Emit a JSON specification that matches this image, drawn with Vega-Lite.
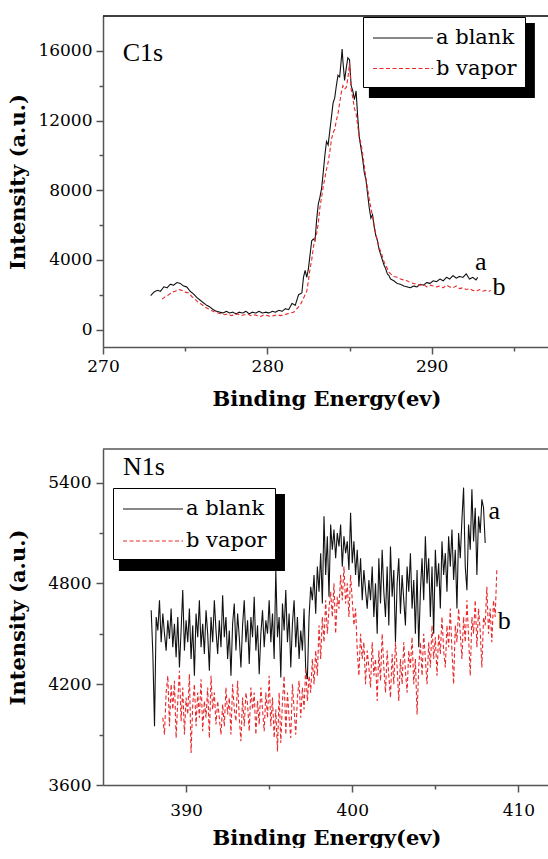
{
"$schema": "https://vega.github.io/schema/vega-lite/v6.json",
"background": "white",
"padding": {"left": 7, "top": 15, "right": 0, "bottom": 0},
"spacing": 39,
"config": {
 "view": {"stroke": null},
 "axis": {"labelFont": "DejaVu Serif", "labelFontSize": 17, "labelColor": "black", "titleFont": "DejaVu Serif", "titleFontSize": 21, "titleFontWeight": "bold", "titleColor": "black", "domainColor": "#555", "domainWidth": 1.5, "tickColor": "#555", "tickWidth": 1.5, "grid": false, "labelOverlap": false, "labelFlush": false},
 "legend": {"title": null, "orient": "none", "symbolType": "M-2.5,0H2.5", "symbolSize": 576, "symbolOffset": 19, "symbolStrokeWidth": 1.2, "labelFont": "DejaVu Serif", "labelFontSize": 21, "labelColor": "black", "labelOffset": 20, "strokeColor": "black", "fillColor": "white", "padding": 8, "rowPadding": 7.5},
 "text": {"font": "Liberation Serif", "fontSize": 26, "color": "black"}
},
"resolve": {"scale": {"color": "independent", "strokeDash": "independent"}, "legend": {"color": "independent", "strokeDash": "independent"}},
"datasets": {
 "c1s": [
{"e":272.9,"i":1950,"s":"a blank"},{"e":273.1,"i":2150,"s":"a blank"},{"e":273.3,"i":2250,"s":"a blank"},{"e":273.5,"i":2200,"s":"a blank"},{"e":273.7,"i":2450,"s":"a blank"},{"e":273.9,"i":2400,"s":"a blank"},{"e":274.1,"i":2600,"s":"a blank"},{"e":274.3,"i":2550,"s":"a blank"},{"e":274.5,"i":2700,"s":"a blank"},{"e":274.7,"i":2650,"s":"a blank"},{"e":274.9,"i":2500,"s":"a blank"},{"e":275.1,"i":2450,"s":"a blank"},{"e":275.3,"i":2200,"s":"a blank"},{"e":275.5,"i":2050,"s":"a blank"},{"e":275.7,"i":1850,"s":"a blank"},{"e":275.9,"i":1700,"s":"a blank"},{"e":276.1,"i":1550,"s":"a blank"},{"e":276.3,"i":1400,"s":"a blank"},{"e":276.5,"i":1300,"s":"a blank"},{"e":276.7,"i":1150,"s":"a blank"},{"e":276.9,"i":1050,"s":"a blank"},{"e":277.1,"i":1000,"s":"a blank"},{"e":277.3,"i":950,"s":"a blank"},{"e":277.5,"i":1050,"s":"a blank"},{"e":277.7,"i":950,"s":"a blank"},{"e":277.9,"i":1000,"s":"a blank"},{"e":278.1,"i":900,"s":"a blank"},{"e":278.3,"i":1000,"s":"a blank"},{"e":278.5,"i":950,"s":"a blank"},{"e":278.7,"i":1050,"s":"a blank"},{"e":278.9,"i":900,"s":"a blank"},{"e":279.1,"i":1000,"s":"a blank"},{"e":279.3,"i":950,"s":"a blank"},{"e":279.5,"i":1050,"s":"a blank"},{"e":279.7,"i":950,"s":"a blank"},{"e":279.9,"i":1000,"s":"a blank"},{"e":280.1,"i":950,"s":"a blank"},{"e":280.3,"i":1050,"s":"a blank"},{"e":280.5,"i":1000,"s":"a blank"},{"e":280.7,"i":1100,"s":"a blank"},{"e":280.9,"i":1050,"s":"a blank"},{"e":281.1,"i":1200,"s":"a blank"},{"e":281.3,"i":1150,"s":"a blank"},{"e":281.5,"i":1500,"s":"a blank"},{"e":281.7,"i":1400,"s":"a blank"},{"e":281.9,"i":2000,"s":"a blank"},{"e":282.1,"i":2100,"s":"a blank"},{"e":282.2,"i":3000,"s":"a blank"},{"e":282.3,"i":3400,"s":"a blank"},{"e":282.4,"i":3000,"s":"a blank"},{"e":282.5,"i":3500,"s":"a blank"},{"e":282.6,"i":4300,"s":"a blank"},{"e":282.7,"i":5100,"s":"a blank"},{"e":282.8,"i":5200,"s":"a blank"},{"e":282.9,"i":5100,"s":"a blank"},{"e":283.0,"i":6300,"s":"a blank"},{"e":283.1,"i":7200,"s":"a blank"},{"e":283.2,"i":7600,"s":"a blank"},{"e":283.3,"i":8100,"s":"a blank"},{"e":283.4,"i":9000,"s":"a blank"},{"e":283.5,"i":10000,"s":"a blank"},{"e":283.6,"i":10800,"s":"a blank"},{"e":283.7,"i":10600,"s":"a blank"},{"e":283.8,"i":11400,"s":"a blank"},{"e":283.9,"i":12200,"s":"a blank"},{"e":284.0,"i":13000,"s":"a blank"},{"e":284.1,"i":13300,"s":"a blank"},{"e":284.2,"i":14000,"s":"a blank"},{"e":284.3,"i":14600,"s":"a blank"},{"e":284.4,"i":14500,"s":"a blank"},{"e":284.5,"i":15500,"s":"a blank"},{"e":284.55,"i":16100,"s":"a blank"},{"e":284.6,"i":15400,"s":"a blank"},{"e":284.7,"i":14300,"s":"a blank"},{"e":284.8,"i":15000,"s":"a blank"},{"e":284.9,"i":15600,"s":"a blank"},{"e":285.0,"i":15500,"s":"a blank"},{"e":285.1,"i":14000,"s":"a blank"},{"e":285.2,"i":13700,"s":"a blank"},{"e":285.3,"i":13200,"s":"a blank"},{"e":285.4,"i":13700,"s":"a blank"},{"e":285.5,"i":12200,"s":"a blank"},{"e":285.6,"i":11000,"s":"a blank"},{"e":285.7,"i":10400,"s":"a blank"},{"e":285.8,"i":9800,"s":"a blank"},{"e":285.9,"i":9000,"s":"a blank"},{"e":286.0,"i":8600,"s":"a blank"},{"e":286.1,"i":7800,"s":"a blank"},{"e":286.2,"i":7000,"s":"a blank"},{"e":286.3,"i":6400,"s":"a blank"},{"e":286.4,"i":6600,"s":"a blank"},{"e":286.5,"i":5900,"s":"a blank"},{"e":286.6,"i":5400,"s":"a blank"},{"e":286.7,"i":5100,"s":"a blank"},{"e":286.8,"i":4600,"s":"a blank"},{"e":286.9,"i":4300,"s":"a blank"},{"e":287.0,"i":4000,"s":"a blank"},{"e":287.1,"i":3700,"s":"a blank"},{"e":287.2,"i":3500,"s":"a blank"},{"e":287.3,"i":3200,"s":"a blank"},{"e":287.4,"i":3100,"s":"a blank"},{"e":287.5,"i":2900,"s":"a blank"},{"e":287.7,"i":2800,"s":"a blank"},{"e":287.9,"i":2650,"s":"a blank"},{"e":288.1,"i":2600,"s":"a blank"},{"e":288.3,"i":2500,"s":"a blank"},{"e":288.5,"i":2450,"s":"a blank"},{"e":288.7,"i":2400,"s":"a blank"},{"e":288.9,"i":2500,"s":"a blank"},{"e":289.1,"i":2450,"s":"a blank"},{"e":289.3,"i":2600,"s":"a blank"},{"e":289.5,"i":2550,"s":"a blank"},{"e":289.7,"i":2700,"s":"a blank"},{"e":289.9,"i":2650,"s":"a blank"},{"e":290.1,"i":2800,"s":"a blank"},{"e":290.3,"i":2750,"s":"a blank"},{"e":290.5,"i":2900,"s":"a blank"},{"e":290.7,"i":2800,"s":"a blank"},{"e":290.9,"i":3000,"s":"a blank"},{"e":291.1,"i":2900,"s":"a blank"},{"e":291.3,"i":3100,"s":"a blank"},{"e":291.5,"i":2950,"s":"a blank"},{"e":291.7,"i":3050,"s":"a blank"},{"e":291.9,"i":3000,"s":"a blank"},{"e":292.1,"i":3200,"s":"a blank"},{"e":292.3,"i":2900,"s":"a blank"},{"e":292.5,"i":3000,"s":"a blank"},{"e":292.7,"i":2850,"s":"a blank"},{"e":292.8,"i":3000,"s":"a blank"},
{"e":273.6,"i":1750,"s":"b vapor"},{"e":273.8,"i":1900,"s":"b vapor"},{"e":274.0,"i":2000,"s":"b vapor"},{"e":274.2,"i":2150,"s":"b vapor"},{"e":274.4,"i":2200,"s":"b vapor"},{"e":274.6,"i":2300,"s":"b vapor"},{"e":274.8,"i":2250,"s":"b vapor"},{"e":275.0,"i":2150,"s":"b vapor"},{"e":275.2,"i":2100,"s":"b vapor"},{"e":275.4,"i":1900,"s":"b vapor"},{"e":275.6,"i":1750,"s":"b vapor"},{"e":275.8,"i":1550,"s":"b vapor"},{"e":276.0,"i":1450,"s":"b vapor"},{"e":276.2,"i":1300,"s":"b vapor"},{"e":276.4,"i":1200,"s":"b vapor"},{"e":276.6,"i":1100,"s":"b vapor"},{"e":276.8,"i":1000,"s":"b vapor"},{"e":277.0,"i":950,"s":"b vapor"},{"e":277.2,"i":900,"s":"b vapor"},{"e":277.4,"i":850,"s":"b vapor"},{"e":277.6,"i":900,"s":"b vapor"},{"e":277.8,"i":800,"s":"b vapor"},{"e":278.0,"i":850,"s":"b vapor"},{"e":278.2,"i":900,"s":"b vapor"},{"e":278.4,"i":800,"s":"b vapor"},{"e":278.6,"i":850,"s":"b vapor"},{"e":278.8,"i":900,"s":"b vapor"},{"e":279.0,"i":800,"s":"b vapor"},{"e":279.2,"i":850,"s":"b vapor"},{"e":279.4,"i":800,"s":"b vapor"},{"e":279.6,"i":750,"s":"b vapor"},{"e":279.8,"i":850,"s":"b vapor"},{"e":280.0,"i":800,"s":"b vapor"},{"e":280.2,"i":750,"s":"b vapor"},{"e":280.4,"i":800,"s":"b vapor"},{"e":280.6,"i":850,"s":"b vapor"},{"e":280.8,"i":800,"s":"b vapor"},{"e":281.0,"i":850,"s":"b vapor"},{"e":281.2,"i":900,"s":"b vapor"},{"e":281.4,"i":950,"s":"b vapor"},{"e":281.6,"i":1000,"s":"b vapor"},{"e":281.8,"i":1200,"s":"b vapor"},{"e":282.0,"i":1400,"s":"b vapor"},{"e":282.2,"i":1800,"s":"b vapor"},{"e":282.4,"i":2200,"s":"b vapor"},{"e":282.5,"i":2800,"s":"b vapor"},{"e":282.6,"i":3500,"s":"b vapor"},{"e":282.7,"i":4000,"s":"b vapor"},{"e":282.8,"i":4700,"s":"b vapor"},{"e":282.9,"i":5300,"s":"b vapor"},{"e":283.0,"i":5500,"s":"b vapor"},{"e":283.1,"i":6100,"s":"b vapor"},{"e":283.2,"i":7000,"s":"b vapor"},{"e":283.3,"i":7600,"s":"b vapor"},{"e":283.4,"i":8200,"s":"b vapor"},{"e":283.5,"i":8700,"s":"b vapor"},{"e":283.6,"i":9200,"s":"b vapor"},{"e":283.7,"i":9600,"s":"b vapor"},{"e":283.8,"i":10200,"s":"b vapor"},{"e":283.9,"i":10900,"s":"b vapor"},{"e":284.0,"i":11300,"s":"b vapor"},{"e":284.1,"i":11500,"s":"b vapor"},{"e":284.2,"i":12000,"s":"b vapor"},{"e":284.3,"i":12400,"s":"b vapor"},{"e":284.4,"i":13000,"s":"b vapor"},{"e":284.5,"i":13600,"s":"b vapor"},{"e":284.6,"i":14000,"s":"b vapor"},{"e":284.7,"i":13800,"s":"b vapor"},{"e":284.8,"i":13900,"s":"b vapor"},{"e":284.9,"i":14400,"s":"b vapor"},{"e":285.0,"i":15300,"s":"b vapor"},{"e":285.1,"i":13800,"s":"b vapor"},{"e":285.2,"i":13300,"s":"b vapor"},{"e":285.3,"i":12700,"s":"b vapor"},{"e":285.4,"i":12400,"s":"b vapor"},{"e":285.5,"i":11700,"s":"b vapor"},{"e":285.6,"i":11000,"s":"b vapor"},{"e":285.7,"i":10700,"s":"b vapor"},{"e":285.8,"i":10100,"s":"b vapor"},{"e":285.9,"i":9400,"s":"b vapor"},{"e":286.0,"i":8700,"s":"b vapor"},{"e":286.1,"i":8100,"s":"b vapor"},{"e":286.2,"i":7500,"s":"b vapor"},{"e":286.3,"i":7000,"s":"b vapor"},{"e":286.4,"i":6500,"s":"b vapor"},{"e":286.5,"i":6000,"s":"b vapor"},{"e":286.6,"i":5500,"s":"b vapor"},{"e":286.7,"i":5100,"s":"b vapor"},{"e":286.8,"i":4700,"s":"b vapor"},{"e":286.9,"i":4500,"s":"b vapor"},{"e":287.0,"i":4200,"s":"b vapor"},{"e":287.1,"i":3900,"s":"b vapor"},{"e":287.2,"i":3700,"s":"b vapor"},{"e":287.3,"i":3500,"s":"b vapor"},{"e":287.4,"i":3300,"s":"b vapor"},{"e":287.5,"i":3200,"s":"b vapor"},{"e":287.7,"i":3050,"s":"b vapor"},{"e":287.9,"i":3000,"s":"b vapor"},{"e":288.1,"i":2900,"s":"b vapor"},{"e":288.3,"i":2850,"s":"b vapor"},{"e":288.5,"i":2800,"s":"b vapor"},{"e":288.7,"i":2700,"s":"b vapor"},{"e":288.9,"i":2650,"s":"b vapor"},{"e":289.1,"i":2600,"s":"b vapor"},{"e":289.3,"i":2550,"s":"b vapor"},{"e":289.5,"i":2600,"s":"b vapor"},{"e":289.7,"i":2450,"s":"b vapor"},{"e":289.9,"i":2550,"s":"b vapor"},{"e":290.1,"i":2500,"s":"b vapor"},{"e":290.3,"i":2450,"s":"b vapor"},{"e":290.5,"i":2500,"s":"b vapor"},{"e":290.7,"i":2400,"s":"b vapor"},{"e":290.9,"i":2550,"s":"b vapor"},{"e":291.1,"i":2450,"s":"b vapor"},{"e":291.3,"i":2400,"s":"b vapor"},{"e":291.5,"i":2500,"s":"b vapor"},{"e":291.7,"i":2350,"s":"b vapor"},{"e":291.9,"i":2400,"s":"b vapor"},{"e":292.1,"i":2300,"s":"b vapor"},{"e":292.3,"i":2350,"s":"b vapor"},{"e":292.5,"i":2250,"s":"b vapor"},{"e":292.7,"i":2200,"s":"b vapor"},{"e":292.9,"i":2300,"s":"b vapor"},{"e":293.1,"i":2200,"s":"b vapor"},{"e":293.3,"i":2250,"s":"b vapor"},{"e":293.5,"i":2200,"s":"b vapor"},{"e":293.6,"i":2250,"s":"b vapor"}
 ],
 "n1s": [
{"e":387.9,"i":4640,"s":"a blank"},{"e":388.0,"i":4380,"s":"a blank"},{"e":388.1,"i":3950,"s":"a blank"},{"e":388.2,"i":4600,"s":"a blank"},{"e":388.3,"i":4520,"s":"a blank"},{"e":388.4,"i":4700,"s":"a blank"},{"e":388.5,"i":4450,"s":"a blank"},{"e":388.6,"i":4620,"s":"a blank"},{"e":388.7,"i":4500,"s":"a blank"},{"e":388.8,"i":4400,"s":"a blank"},{"e":388.9,"i":4580,"s":"a blank"},{"e":389.0,"i":4470,"s":"a blank"},{"e":389.1,"i":4650,"s":"a blank"},{"e":389.2,"i":4420,"s":"a blank"},{"e":389.3,"i":4560,"s":"a blank"},{"e":389.4,"i":4360,"s":"a blank"},{"e":389.5,"i":4600,"s":"a blank"},{"e":389.6,"i":4300,"s":"a blank"},{"e":389.7,"i":4520,"s":"a blank"},{"e":389.8,"i":4760,"s":"a blank"},{"e":389.9,"i":4400,"s":"a blank"},{"e":390.0,"i":4580,"s":"a blank"},{"e":390.1,"i":4450,"s":"a blank"},{"e":390.2,"i":4650,"s":"a blank"},{"e":390.3,"i":4350,"s":"a blank"},{"e":390.4,"i":4550,"s":"a blank"},{"e":390.5,"i":4250,"s":"a blank"},{"e":390.6,"i":4620,"s":"a blank"},{"e":390.7,"i":4480,"s":"a blank"},{"e":390.8,"i":4700,"s":"a blank"},{"e":390.9,"i":4420,"s":"a blank"},{"e":391.0,"i":4560,"s":"a blank"},{"e":391.1,"i":4380,"s":"a blank"},{"e":391.2,"i":4640,"s":"a blank"},{"e":391.3,"i":4500,"s":"a blank"},{"e":391.4,"i":4280,"s":"a blank"},{"e":391.5,"i":4600,"s":"a blank"},{"e":391.6,"i":4450,"s":"a blank"},{"e":391.7,"i":4700,"s":"a blank"},{"e":391.8,"i":4520,"s":"a blank"},{"e":391.9,"i":4380,"s":"a blank"},{"e":392.0,"i":4580,"s":"a blank"},{"e":392.1,"i":4420,"s":"a blank"},{"e":392.2,"i":4730,"s":"a blank"},{"e":392.3,"i":4480,"s":"a blank"},{"e":392.4,"i":4600,"s":"a blank"},{"e":392.5,"i":4350,"s":"a blank"},{"e":392.6,"i":4520,"s":"a blank"},{"e":392.7,"i":4250,"s":"a blank"},{"e":392.8,"i":4560,"s":"a blank"},{"e":392.9,"i":4680,"s":"a blank"},{"e":393.0,"i":4400,"s":"a blank"},{"e":393.1,"i":4620,"s":"a blank"},{"e":393.2,"i":4480,"s":"a blank"},{"e":393.3,"i":4300,"s":"a blank"},{"e":393.4,"i":4550,"s":"a blank"},{"e":393.5,"i":4700,"s":"a blank"},{"e":393.6,"i":4450,"s":"a blank"},{"e":393.7,"i":4580,"s":"a blank"},{"e":393.8,"i":4320,"s":"a blank"},{"e":393.9,"i":4600,"s":"a blank"},{"e":394.0,"i":4480,"s":"a blank"},{"e":394.1,"i":4720,"s":"a blank"},{"e":394.2,"i":4400,"s":"a blank"},{"e":394.3,"i":4550,"s":"a blank"},{"e":394.4,"i":4260,"s":"a blank"},{"e":394.5,"i":4500,"s":"a blank"},{"e":394.6,"i":4640,"s":"a blank"},{"e":394.7,"i":4420,"s":"a blank"},{"e":394.8,"i":4580,"s":"a blank"},{"e":394.9,"i":4500,"s":"a blank"},{"e":395.0,"i":4700,"s":"a blank"},{"e":395.1,"i":4450,"s":"a blank"},{"e":395.2,"i":4620,"s":"a blank"},{"e":395.3,"i":4350,"s":"a blank"},{"e":395.4,"i":4880,"s":"a blank"},{"e":395.5,"i":4480,"s":"a blank"},{"e":395.6,"i":4600,"s":"a blank"},{"e":395.7,"i":4240,"s":"a blank"},{"e":395.8,"i":4680,"s":"a blank"},{"e":395.9,"i":4520,"s":"a blank"},{"e":396.0,"i":4760,"s":"a blank"},{"e":396.1,"i":4450,"s":"a blank"},{"e":396.2,"i":4620,"s":"a blank"},{"e":396.3,"i":4300,"s":"a blank"},{"e":396.4,"i":4560,"s":"a blank"},{"e":396.5,"i":4700,"s":"a blank"},{"e":396.6,"i":4420,"s":"a blank"},{"e":396.7,"i":4600,"s":"a blank"},{"e":396.8,"i":4350,"s":"a blank"},{"e":396.9,"i":4520,"s":"a blank"},{"e":397.0,"i":4400,"s":"a blank"},{"e":397.1,"i":4650,"s":"a blank"},{"e":397.2,"i":4280,"s":"a blank"},{"e":397.3,"i":4230,"s":"a blank"},{"e":397.4,"i":4600,"s":"a blank"},{"e":397.5,"i":4780,"s":"a blank"},{"e":397.6,"i":4700,"s":"a blank"},{"e":397.7,"i":4850,"s":"a blank"},{"e":397.8,"i":4620,"s":"a blank"},{"e":397.9,"i":4900,"s":"a blank"},{"e":398.0,"i":4750,"s":"a blank"},{"e":398.1,"i":4980,"s":"a blank"},{"e":398.2,"i":4680,"s":"a blank"},{"e":398.3,"i":5200,"s":"a blank"},{"e":398.4,"i":4850,"s":"a blank"},{"e":398.5,"i":5080,"s":"a blank"},{"e":398.6,"i":4720,"s":"a blank"},{"e":398.7,"i":5150,"s":"a blank"},{"e":398.8,"i":5000,"s":"a blank"},{"e":398.9,"i":5120,"s":"a blank"},{"e":399.0,"i":4950,"s":"a blank"},{"e":399.1,"i":5100,"s":"a blank"},{"e":399.2,"i":5020,"s":"a blank"},{"e":399.3,"i":5150,"s":"a blank"},{"e":399.4,"i":4900,"s":"a blank"},{"e":399.5,"i":5080,"s":"a blank"},{"e":399.6,"i":4980,"s":"a blank"},{"e":399.7,"i":5050,"s":"a blank"},{"e":399.8,"i":4880,"s":"a blank"},{"e":399.9,"i":5220,"s":"a blank"},{"e":400.0,"i":4920,"s":"a blank"},{"e":400.1,"i":5050,"s":"a blank"},{"e":400.2,"i":4850,"s":"a blank"},{"e":400.3,"i":5000,"s":"a blank"},{"e":400.4,"i":4780,"s":"a blank"},{"e":400.5,"i":4950,"s":"a blank"},{"e":400.6,"i":4700,"s":"a blank"},{"e":400.7,"i":4880,"s":"a blank"},{"e":400.8,"i":4760,"s":"a blank"},{"e":400.9,"i":4650,"s":"a blank"},{"e":401.0,"i":4820,"s":"a blank"},{"e":401.1,"i":4700,"s":"a blank"},{"e":401.2,"i":4900,"s":"a blank"},{"e":401.3,"i":4600,"s":"a blank"},{"e":401.4,"i":4800,"s":"a blank"},{"e":401.5,"i":4500,"s":"a blank"},{"e":401.6,"i":4950,"s":"a blank"},{"e":401.7,"i":4680,"s":"a blank"},{"e":401.8,"i":5000,"s":"a blank"},{"e":401.9,"i":4750,"s":"a blank"},{"e":402.0,"i":4600,"s":"a blank"},{"e":402.1,"i":4900,"s":"a blank"},{"e":402.2,"i":4550,"s":"a blank"},{"e":402.3,"i":5020,"s":"a blank"},{"e":402.4,"i":4720,"s":"a blank"},{"e":402.5,"i":4880,"s":"a blank"},{"e":402.6,"i":4450,"s":"a blank"},{"e":402.7,"i":4800,"s":"a blank"},{"e":402.8,"i":4950,"s":"a blank"},{"e":402.9,"i":4620,"s":"a blank"},{"e":403.0,"i":4850,"s":"a blank"},{"e":403.1,"i":4700,"s":"a blank"},{"e":403.2,"i":4550,"s":"a blank"},{"e":403.3,"i":4900,"s":"a blank"},{"e":403.4,"i":4750,"s":"a blank"},{"e":403.5,"i":4980,"s":"a blank"},{"e":403.6,"i":4650,"s":"a blank"},{"e":403.7,"i":4820,"s":"a blank"},{"e":403.8,"i":4500,"s":"a blank"},{"e":403.9,"i":4880,"s":"a blank"},{"e":404.0,"i":4420,"s":"a blank"},{"e":404.1,"i":4750,"s":"a blank"},{"e":404.2,"i":4950,"s":"a blank"},{"e":404.3,"i":4700,"s":"a blank"},{"e":404.4,"i":5080,"s":"a blank"},{"e":404.5,"i":4800,"s":"a blank"},{"e":404.6,"i":4950,"s":"a blank"},{"e":404.7,"i":4600,"s":"a blank"},{"e":404.8,"i":4900,"s":"a blank"},{"e":404.9,"i":4500,"s":"a blank"},{"e":405.0,"i":5000,"s":"a blank"},{"e":405.1,"i":4780,"s":"a blank"},{"e":405.2,"i":4920,"s":"a blank"},{"e":405.3,"i":4650,"s":"a blank"},{"e":405.4,"i":5050,"s":"a blank"},{"e":405.5,"i":4850,"s":"a blank"},{"e":405.6,"i":4980,"s":"a blank"},{"e":405.7,"i":4750,"s":"a blank"},{"e":405.8,"i":5080,"s":"a blank"},{"e":405.9,"i":4900,"s":"a blank"},{"e":406.0,"i":5120,"s":"a blank"},{"e":406.1,"i":4820,"s":"a blank"},{"e":406.2,"i":5000,"s":"a blank"},{"e":406.3,"i":4650,"s":"a blank"},{"e":406.4,"i":5100,"s":"a blank"},{"e":406.5,"i":4950,"s":"a blank"},{"e":406.6,"i":5180,"s":"a blank"},{"e":406.7,"i":5370,"s":"a blank"},{"e":406.8,"i":4900,"s":"a blank"},{"e":406.9,"i":4760,"s":"a blank"},{"e":407.0,"i":5150,"s":"a blank"},{"e":407.1,"i":5000,"s":"a blank"},{"e":407.2,"i":5360,"s":"a blank"},{"e":407.3,"i":5050,"s":"a blank"},{"e":407.4,"i":5250,"s":"a blank"},{"e":407.5,"i":4850,"s":"a blank"},{"e":407.6,"i":5200,"s":"a blank"},{"e":407.7,"i":5100,"s":"a blank"},{"e":407.8,"i":5300,"s":"a blank"},{"e":407.9,"i":5250,"s":"a blank"},{"e":408.0,"i":5040,"s":"a blank"},
{"e":388.6,"i":4000,"s":"b vapor"},{"e":388.7,"i":3900,"s":"b vapor"},{"e":388.8,"i":4150,"s":"b vapor"},{"e":388.9,"i":4250,"s":"b vapor"},{"e":389.0,"i":3950,"s":"b vapor"},{"e":389.1,"i":4200,"s":"b vapor"},{"e":389.2,"i":4050,"s":"b vapor"},{"e":389.3,"i":4220,"s":"b vapor"},{"e":389.4,"i":3880,"s":"b vapor"},{"e":389.5,"i":4100,"s":"b vapor"},{"e":389.6,"i":4280,"s":"b vapor"},{"e":389.7,"i":3980,"s":"b vapor"},{"e":389.8,"i":4180,"s":"b vapor"},{"e":389.9,"i":3900,"s":"b vapor"},{"e":390.0,"i":4120,"s":"b vapor"},{"e":390.1,"i":4020,"s":"b vapor"},{"e":390.2,"i":4260,"s":"b vapor"},{"e":390.3,"i":3790,"s":"b vapor"},{"e":390.4,"i":4080,"s":"b vapor"},{"e":390.5,"i":4200,"s":"b vapor"},{"e":390.6,"i":3950,"s":"b vapor"},{"e":390.7,"i":4150,"s":"b vapor"},{"e":390.8,"i":4000,"s":"b vapor"},{"e":390.9,"i":4230,"s":"b vapor"},{"e":391.0,"i":3920,"s":"b vapor"},{"e":391.1,"i":4100,"s":"b vapor"},{"e":391.2,"i":4000,"s":"b vapor"},{"e":391.3,"i":4180,"s":"b vapor"},{"e":391.4,"i":3880,"s":"b vapor"},{"e":391.5,"i":4250,"s":"b vapor"},{"e":391.6,"i":4050,"s":"b vapor"},{"e":391.7,"i":4150,"s":"b vapor"},{"e":391.8,"i":3960,"s":"b vapor"},{"e":391.9,"i":4100,"s":"b vapor"},{"e":392.0,"i":4000,"s":"b vapor"},{"e":392.1,"i":3900,"s":"b vapor"},{"e":392.2,"i":4080,"s":"b vapor"},{"e":392.3,"i":3950,"s":"b vapor"},{"e":392.4,"i":4180,"s":"b vapor"},{"e":392.5,"i":4020,"s":"b vapor"},{"e":392.6,"i":4120,"s":"b vapor"},{"e":392.7,"i":3900,"s":"b vapor"},{"e":392.8,"i":4200,"s":"b vapor"},{"e":392.9,"i":4050,"s":"b vapor"},{"e":393.0,"i":3980,"s":"b vapor"},{"e":393.1,"i":4220,"s":"b vapor"},{"e":393.2,"i":4000,"s":"b vapor"},{"e":393.3,"i":3860,"s":"b vapor"},{"e":393.4,"i":4120,"s":"b vapor"},{"e":393.5,"i":3950,"s":"b vapor"},{"e":393.6,"i":4150,"s":"b vapor"},{"e":393.7,"i":4080,"s":"b vapor"},{"e":393.8,"i":3920,"s":"b vapor"},{"e":393.9,"i":4180,"s":"b vapor"},{"e":394.0,"i":4050,"s":"b vapor"},{"e":394.1,"i":4150,"s":"b vapor"},{"e":394.2,"i":3900,"s":"b vapor"},{"e":394.3,"i":4100,"s":"b vapor"},{"e":394.4,"i":3960,"s":"b vapor"},{"e":394.5,"i":4180,"s":"b vapor"},{"e":394.6,"i":4050,"s":"b vapor"},{"e":394.7,"i":3920,"s":"b vapor"},{"e":394.8,"i":4150,"s":"b vapor"},{"e":394.9,"i":4000,"s":"b vapor"},{"e":395.0,"i":4250,"s":"b vapor"},{"e":395.1,"i":3950,"s":"b vapor"},{"e":395.2,"i":4120,"s":"b vapor"},{"e":395.3,"i":3880,"s":"b vapor"},{"e":395.4,"i":4050,"s":"b vapor"},{"e":395.5,"i":3800,"s":"b vapor"},{"e":395.6,"i":4150,"s":"b vapor"},{"e":395.7,"i":3850,"s":"b vapor"},{"e":395.8,"i":4100,"s":"b vapor"},{"e":395.9,"i":4250,"s":"b vapor"},{"e":396.0,"i":3900,"s":"b vapor"},{"e":396.1,"i":4150,"s":"b vapor"},{"e":396.2,"i":4000,"s":"b vapor"},{"e":396.3,"i":3880,"s":"b vapor"},{"e":396.4,"i":4200,"s":"b vapor"},{"e":396.5,"i":4050,"s":"b vapor"},{"e":396.6,"i":3900,"s":"b vapor"},{"e":396.7,"i":4120,"s":"b vapor"},{"e":396.8,"i":4220,"s":"b vapor"},{"e":396.9,"i":4000,"s":"b vapor"},{"e":397.0,"i":4180,"s":"b vapor"},{"e":397.1,"i":4050,"s":"b vapor"},{"e":397.2,"i":4300,"s":"b vapor"},{"e":397.3,"i":4100,"s":"b vapor"},{"e":397.4,"i":4250,"s":"b vapor"},{"e":397.5,"i":4150,"s":"b vapor"},{"e":397.6,"i":4350,"s":"b vapor"},{"e":397.7,"i":4200,"s":"b vapor"},{"e":397.8,"i":4400,"s":"b vapor"},{"e":397.9,"i":4250,"s":"b vapor"},{"e":398.0,"i":4550,"s":"b vapor"},{"e":398.1,"i":4350,"s":"b vapor"},{"e":398.2,"i":4600,"s":"b vapor"},{"e":398.3,"i":4450,"s":"b vapor"},{"e":398.4,"i":4700,"s":"b vapor"},{"e":398.5,"i":4500,"s":"b vapor"},{"e":398.6,"i":4650,"s":"b vapor"},{"e":398.7,"i":4750,"s":"b vapor"},{"e":398.8,"i":4600,"s":"b vapor"},{"e":398.9,"i":4800,"s":"b vapor"},{"e":399.0,"i":4500,"s":"b vapor"},{"e":399.1,"i":4720,"s":"b vapor"},{"e":399.2,"i":4650,"s":"b vapor"},{"e":399.3,"i":4850,"s":"b vapor"},{"e":399.4,"i":4700,"s":"b vapor"},{"e":399.5,"i":4900,"s":"b vapor"},{"e":399.6,"i":4680,"s":"b vapor"},{"e":399.7,"i":4800,"s":"b vapor"},{"e":399.8,"i":4600,"s":"b vapor"},{"e":399.9,"i":4850,"s":"b vapor"},{"e":400.0,"i":4700,"s":"b vapor"},{"e":400.1,"i":4550,"s":"b vapor"},{"e":400.2,"i":4650,"s":"b vapor"},{"e":400.3,"i":4400,"s":"b vapor"},{"e":400.4,"i":4250,"s":"b vapor"},{"e":400.5,"i":4500,"s":"b vapor"},{"e":400.6,"i":4350,"s":"b vapor"},{"e":400.7,"i":4450,"s":"b vapor"},{"e":400.8,"i":4200,"s":"b vapor"},{"e":400.9,"i":4400,"s":"b vapor"},{"e":401.0,"i":4300,"s":"b vapor"},{"e":401.1,"i":4180,"s":"b vapor"},{"e":401.2,"i":4450,"s":"b vapor"},{"e":401.3,"i":4250,"s":"b vapor"},{"e":401.4,"i":4350,"s":"b vapor"},{"e":401.5,"i":4100,"s":"b vapor"},{"e":401.6,"i":4400,"s":"b vapor"},{"e":401.7,"i":4220,"s":"b vapor"},{"e":401.8,"i":4500,"s":"b vapor"},{"e":401.9,"i":4300,"s":"b vapor"},{"e":402.0,"i":4150,"s":"b vapor"},{"e":402.1,"i":4400,"s":"b vapor"},{"e":402.2,"i":4250,"s":"b vapor"},{"e":402.3,"i":4120,"s":"b vapor"},{"e":402.4,"i":4380,"s":"b vapor"},{"e":402.5,"i":4200,"s":"b vapor"},{"e":402.6,"i":4450,"s":"b vapor"},{"e":402.7,"i":4300,"s":"b vapor"},{"e":402.8,"i":4100,"s":"b vapor"},{"e":402.9,"i":4350,"s":"b vapor"},{"e":403.0,"i":4200,"s":"b vapor"},{"e":403.1,"i":4450,"s":"b vapor"},{"e":403.2,"i":4280,"s":"b vapor"},{"e":403.3,"i":4150,"s":"b vapor"},{"e":403.4,"i":4400,"s":"b vapor"},{"e":403.5,"i":4300,"s":"b vapor"},{"e":403.6,"i":4480,"s":"b vapor"},{"e":403.7,"i":4200,"s":"b vapor"},{"e":403.8,"i":4350,"s":"b vapor"},{"e":403.9,"i":4020,"s":"b vapor"},{"e":404.0,"i":4300,"s":"b vapor"},{"e":404.1,"i":4450,"s":"b vapor"},{"e":404.2,"i":4250,"s":"b vapor"},{"e":404.3,"i":4500,"s":"b vapor"},{"e":404.4,"i":4350,"s":"b vapor"},{"e":404.5,"i":4200,"s":"b vapor"},{"e":404.6,"i":4450,"s":"b vapor"},{"e":404.7,"i":4300,"s":"b vapor"},{"e":404.8,"i":4550,"s":"b vapor"},{"e":404.9,"i":4350,"s":"b vapor"},{"e":405.0,"i":4480,"s":"b vapor"},{"e":405.1,"i":4250,"s":"b vapor"},{"e":405.2,"i":4500,"s":"b vapor"},{"e":405.3,"i":4380,"s":"b vapor"},{"e":405.4,"i":4600,"s":"b vapor"},{"e":405.5,"i":4400,"s":"b vapor"},{"e":405.6,"i":4300,"s":"b vapor"},{"e":405.7,"i":4550,"s":"b vapor"},{"e":405.8,"i":4420,"s":"b vapor"},{"e":405.9,"i":4650,"s":"b vapor"},{"e":406.0,"i":4400,"s":"b vapor"},{"e":406.1,"i":4200,"s":"b vapor"},{"e":406.2,"i":4550,"s":"b vapor"},{"e":406.3,"i":4450,"s":"b vapor"},{"e":406.4,"i":4650,"s":"b vapor"},{"e":406.5,"i":4500,"s":"b vapor"},{"e":406.6,"i":4350,"s":"b vapor"},{"e":406.7,"i":4600,"s":"b vapor"},{"e":406.8,"i":4450,"s":"b vapor"},{"e":406.9,"i":4700,"s":"b vapor"},{"e":407.0,"i":4480,"s":"b vapor"},{"e":407.1,"i":4250,"s":"b vapor"},{"e":407.2,"i":4600,"s":"b vapor"},{"e":407.3,"i":4500,"s":"b vapor"},{"e":407.4,"i":4700,"s":"b vapor"},{"e":407.5,"i":4420,"s":"b vapor"},{"e":407.6,"i":4650,"s":"b vapor"},{"e":407.7,"i":4520,"s":"b vapor"},{"e":407.8,"i":4300,"s":"b vapor"},{"e":407.9,"i":4600,"s":"b vapor"},{"e":408.0,"i":4550,"s":"b vapor"},{"e":408.1,"i":4780,"s":"b vapor"},{"e":408.2,"i":4500,"s":"b vapor"},{"e":408.3,"i":4650,"s":"b vapor"},{"e":408.4,"i":4450,"s":"b vapor"},{"e":408.5,"i":4700,"s":"b vapor"},{"e":408.6,"i":4600,"s":"b vapor"},{"e":408.7,"i":4880,"s":"b vapor"}
 ]
},
"vconcat": [
 {
  "width": 447, "height": 331,
  "layer": [
   {"data": {"name": "c1s"},
    "mark": {"type": "line", "strokeWidth": 1.1},
    "encoding": {
     "x": {"field": "e", "type": "quantitative", "scale": {"domain": [270, 297.2], "nice": false, "zero": false},
      "axis": {"title": "Binding Energy(ev)", "labelFont": "DejaVu Serif", "titleFont": "DejaVu Serif", "values": [270, 275, 280, 285, 290, 295], "format": "d", "labelExpr": "datum.value % 10 === 0 ? datum.label : ''", "tickSize": {"condition": {"test": "datum.value % 10 === 0", "value": 7}, "value": 4}, "labelPadding": 4, "titlePadding": 14}},
     "y": {"field": "i", "type": "quantitative", "scale": {"domain": [-1000, 18000], "nice": false, "zero": false},
      "axis": {"title": "Intensity (a.u.)", "labelFont": "DejaVu Serif", "titleFont": "DejaVu Serif", "values": [0, 2000, 4000, 6000, 8000, 10000, 12000, 14000, 16000], "format": "d", "labelExpr": "datum.value % 4000 === 0 ? datum.label : ''", "tickSize": {"condition": {"test": "datum.value % 4000 === 0", "value": 7}, "value": 4}, "labelPadding": 4, "titlePadding": 9}},
     "color": {"field": "s", "type": "nominal", "scale": {"domain": ["a blank", "b vapor"], "range": ["#111111", "#e8282b"]}, "legend": {"legendX": 260, "legendY": 1, "labelFont": "DejaVu Serif"}},
     "strokeDash": {"field": "s", "type": "nominal", "scale": {"domain": ["a blank", "b vapor"], "range": [[1, 0], [4, 2.5]]}, "legend": {"legendX": 260, "legendY": 1, "labelFont": "DejaVu Serif"}}
    }},
   {"data": {"values": [{"x1": 286.18, "x2": 296.28, "y1": 17598, "y2": 13293}]},
    "mark": {"type": "rect", "color": "black"},
    "encoding": {"x": {"field": "x1", "type": "quantitative"}, "x2": {"field": "x2"}, "y": {"field": "y1", "type": "quantitative"}, "y2": {"field": "y2"}}},
   {"data": {"values": [{"top": 18000}]},
    "mark": {"type": "rule", "color": "black", "strokeWidth": 1.5},
    "encoding": {"y": {"field": "top", "type": "quantitative"}}},
   {"data": {"values": [{"e": 271.2, "i": 15426, "t": "C1s"}, {"e": 292.63, "i": 3407, "t": "a"}, {"e": 293.7, "i": 2010, "t": "b"}]},
    "mark": {"type": "text", "baseline": "alphabetic", "align": "left"},
    "encoding": {"x": {"field": "e", "type": "quantitative"}, "y": {"field": "i", "type": "quantitative"}, "text": {"field": "t"}}}
  ]
 },
 {
  "width": 447, "height": 336,
  "layer": [
   {"data": {"name": "n1s"},
    "mark": {"type": "line", "strokeWidth": 1.1},
    "encoding": {
     "x": {"field": "e", "type": "quantitative", "scale": {"domain": [385, 411.9], "nice": false, "zero": false},
      "axis": {"title": "Binding Energy(ev)", "labelFont": "DejaVu Serif", "titleFont": "DejaVu Serif", "values": [390, 395, 400, 405, 410], "format": "d", "labelExpr": "datum.value % 10 === 0 ? datum.label : ''", "tickSize": {"condition": {"test": "datum.value % 10 === 0", "value": 7}, "value": 4}, "labelPadding": 10, "titlePadding": 9}},
     "y": {"field": "i", "type": "quantitative", "scale": {"domain": [3600, 5600], "nice": false, "zero": false},
      "axis": {"title": "Intensity (a.u.)", "labelFont": "DejaVu Serif", "titleFont": "DejaVu Serif", "values": [3600, 3900, 4200, 4500, 4800, 5100, 5400], "format": "d", "labelExpr": "(datum.value - 3600) % 600 === 0 ? datum.label : ''", "tickSize": {"condition": {"test": "(datum.value - 3600) % 600 === 0", "value": 7}, "value": 4}, "labelPadding": 5, "titlePadding": 19}},
     "color": {"field": "s", "type": "nominal", "scale": {"domain": ["a blank", "b vapor"], "range": ["#111111", "#e8282b"]}, "legend": {"legendX": 10, "legendY": 39, "rowPadding": 9, "labelFont": "DejaVu Serif"}},
     "strokeDash": {"field": "s", "type": "nominal", "scale": {"domain": ["a blank", "b vapor"], "range": [[1, 0], [4, 2.5]]}, "legend": {"legendX": 10, "legendY": 39, "rowPadding": 9, "labelFont": "DejaVu Serif"}}
    }},
   {"data": {"values": [{"x1": 385.96, "x2": 395.95, "y1": 5332, "y2": 4874}]},
    "mark": {"type": "rect", "color": "black"},
    "encoding": {"x": {"field": "x1", "type": "quantitative"}, "x2": {"field": "x2"}, "y": {"field": "y1", "type": "quantitative"}, "y2": {"field": "y2"}}},
   {"data": {"values": [{"top": 5600}]},
    "mark": {"type": "rule", "color": "#555", "strokeWidth": 1.5},
    "encoding": {"y": {"field": "top", "type": "quantitative"}}},
   {"data": {"values": [{"e": 386.2, "i": 5445, "t": "N1s"}, {"e": 408.2, "i": 5186, "t": "a"}, {"e": 408.75, "i": 4530, "t": "b"}]},
    "mark": {"type": "text", "baseline": "alphabetic", "align": "left"},
    "encoding": {"x": {"field": "e", "type": "quantitative"}, "y": {"field": "i", "type": "quantitative"}, "text": {"field": "t"}}}
  ]
 }
]
}
